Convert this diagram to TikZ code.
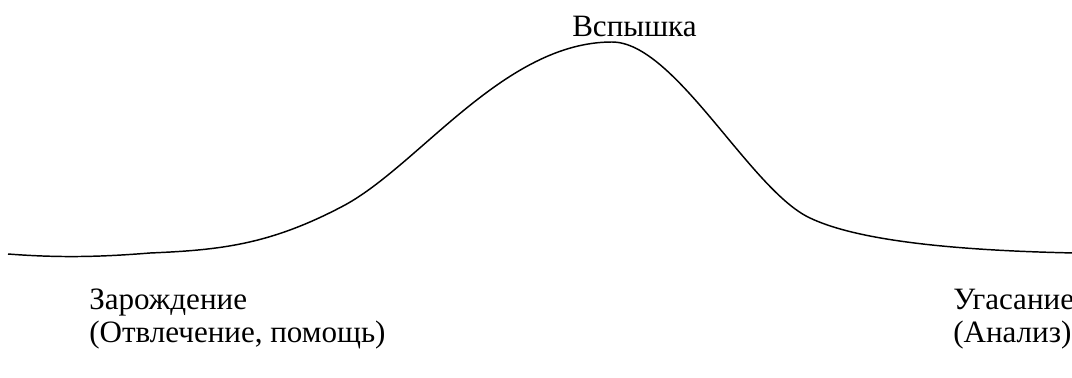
\documentclass[tikz,border=0pt]{standalone}
\usepackage{fontspec}
\setmainfont{Liberation Serif}
\begin{document}
\begin{tikzpicture}[x=0.75pt,y=-0.75pt,
  lbl/.style={inner sep=0pt,anchor=base west,align=left,font=\fontsize{23.3}{24.75}\selectfont},
  wave/.style={line width=1.1pt,line join=round}]
\useasboundingbox[fill=white] (0,0) rectangle (1072,378);
\coordinate (start) at (8,254);
\coordinate (stop) at (1075,253);
\draw[wave] (start) .. controls (60,258) and (100,257) .. (150,253)
  .. controls (220,250) and (270,245) .. (345,205)
  .. controls (420,164) and (505,42) .. (612,42)
  .. controls (675,42) and (750,190) .. (810,218)
  .. controls (850,237) and (930,250) .. (stop);
\node[lbl] (peak) at (572,37) {Вспышка};
\node[lbl] (birth) at (89,342) {Зарождение\\(Отвлечение, помощь)};
\node[lbl] (fade) at (953,342) {Угасание\\(Анализ)};
\end{tikzpicture}
\end{document}
